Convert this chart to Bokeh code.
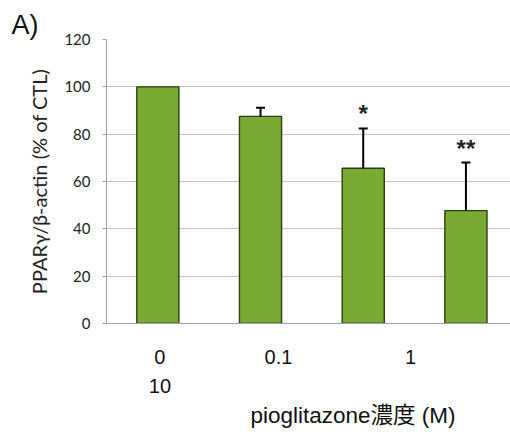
from bokeh.plotting import figure
from bokeh.models import Range1d, FixedTicker, Title, ColumnDataSource
from bokeh.core.properties import value
from bokeh.embed import file_html
from bokeh.resources import INLINE

# data
groups = ["0", "0.1", "1", "10"]
means = [100, 87.5, 65.6, 47.7]
err_top = [100, 91.2, 82.4, 68.0]
stars = ["", "", "*", "**"]
y_ticks = [0, 20, 40, 60, 80, 100, 120]
x_tick_labels = ["0\n10", "0.1", "1"]
x_label = "pioglitazone濃度 (M)"
y_label = "PPARγ/β-actin (% of CTL)"

xs = list(range(len(groups)))
src = ColumnDataSource(dict(x=xs, top=means, err=err_top, star=stars))

p = figure(width=510, height=432, output_backend="svg", toolbar_location=None,
           x_range=Range1d(-0.5, 3.434), y_range=Range1d(0, 120),
           min_border_left=106, min_border_right=0, min_border_top=39, min_border_bottom=109)
p.outline_line_color = None
p.background_fill_color = "white"
p.border_fill_color = "white"

# grid
p.xgrid.grid_line_color = None
p.ygrid.grid_line_color = "#c4c4c4"
p.ygrid.grid_line_width = 1

# bars
p.vbar(x="x", top="top", width=0.41, source=src, fill_color="#78aa34",
       line_color="#2a3f0e", line_width=1.4)
# error bars (upper only)
p.segment(x0="x", y0="top", x1="x", y1="err", source=src, line_color="black", line_width=2)
src_cap = ColumnDataSource(dict(x=xs[1:], err=err_top[1:]))
p.dash(x="x", y="err", source=src_cap, size=9, line_color="black", line_width=2)
# significance stars
p.text(x="x", y="err", text="star", source=src, text_align="center", text_baseline="bottom",
       y_offset=-1, text_font=value("Liberation Sans"), text_font_size="24px",
       text_font_style="bold", text_color="#222222")

# y axis
p.yaxis.ticker = FixedTicker(ticks=y_ticks)
p.yaxis.axis_line_color = "#a0a0a0"
p.yaxis.major_tick_line_color = "#a0a0a0"
p.yaxis.major_tick_out = 4
p.yaxis.major_tick_in = 0
p.yaxis.minor_tick_line_color = None
p.yaxis.major_label_text_font = "Lato"
p.yaxis.major_label_text_font_size = "15px"
p.yaxis.major_label_text_color = "#222222"
p.yaxis.major_label_standoff = 12
p.yaxis.axis_label = y_label
p.yaxis.axis_label_text_font = "Lato"
p.yaxis.axis_label_text_font_style = "normal"
p.yaxis.axis_label_text_font_size = "20px"
p.yaxis.axis_label_text_color = "#222222"
p.yaxis.axis_label_standoff = 10

# x axis with offset (misaligned) labels as in the source figure
tick_pos = [0.02, 1.175, 2.46]
p.xaxis.ticker = FixedTicker(ticks=tick_pos)
p.xaxis.major_label_overrides = {t: l for t, l in zip(tick_pos, x_tick_labels)}
p.xaxis.axis_line_color = "#a0a0a0"
p.xaxis.major_tick_line_color = None
p.xaxis.major_tick_out = 0
p.xaxis.minor_tick_line_color = None
p.xaxis.major_label_text_font = "Liberation Sans"
p.xaxis.major_label_text_font_size = "20px"
p.xaxis.major_label_text_line_height = 1.35
p.xaxis.major_label_text_color = "#111111"
p.xaxis.major_label_standoff = 22

xt = Title(text=x_label, align="left", offset=144, standoff=0,
           text_font="Liberation Sans, Noto Sans CJK JP", text_font_size="22.5px",
           text_font_style="normal", text_color="#111111")
p.add_layout(xt, "below")
at = Title(text="A)", align="left", offset=-95, standoff=0,
           text_font="Liberation Sans", text_font_size="27px",
           text_font_style="normal", text_color="#111111")
p.add_layout(at, "above")

open("out.html", "w").write(file_html(p, INLINE))
